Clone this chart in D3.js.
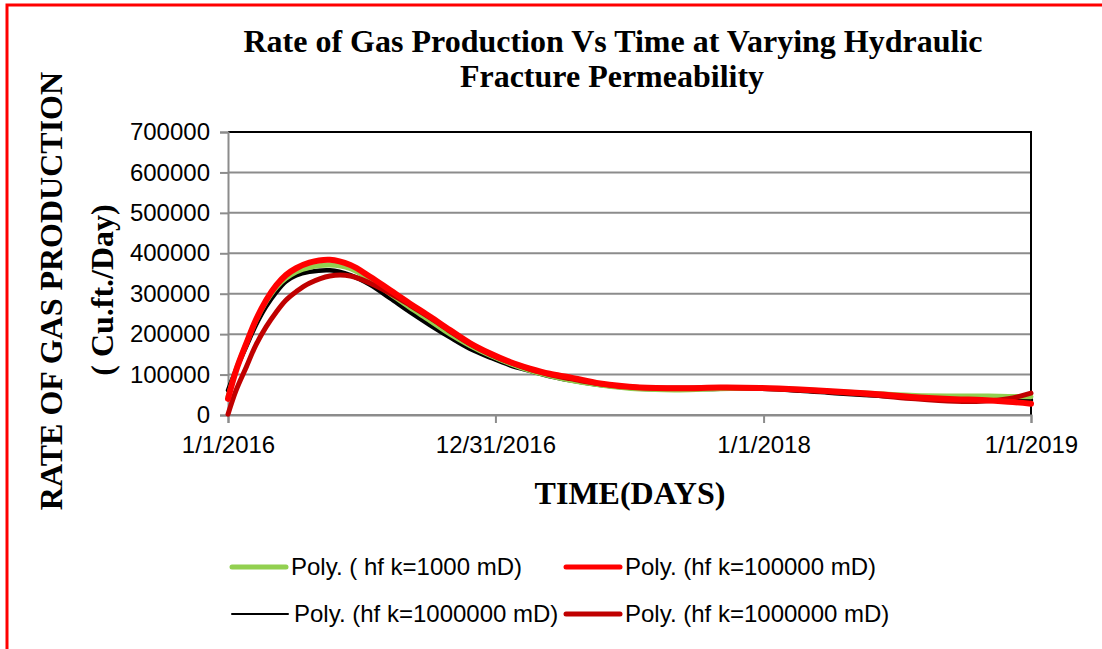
<!DOCTYPE html>
<meta charset="utf-8">

<script src="https://d3js.org/d3.v7.min.js"></script>

<style type="text/css">

body {
  margin: 0;
  background: #fff;
}

.tick-label {
  font-family: "Liberation Sans", Arial, sans-serif;
  font-size: 24px;
  fill: #000;
}

.legend-label {
  font-family: "Liberation Sans", Arial, sans-serif;
  font-size: 24px;
  fill: #000;
}

.title, .axis-title {
  font-family: "Liberation Serif", "Times New Roman", serif;
  font-weight: bold;
  fill: #000;
}

</style>

<body>
</body>

<script>

var days = [0, 11, 25, 38, 52, 66, 79, 93, 111, 139, 167, 194, 221, 248, 276, 303, 330, 358,
            385, 412, 439, 467, 508, 562, 617, 672, 726, 781, 829, 883, 938, 992, 1029, 1065, 1096];

// Poly. ( hf k=1000 mD)
var green = [45000, 112000, 177000, 233000, 280000, 316000, 338000, 354000, 365000, 371000,
             362000, 334000, 300000, 266000, 233000, 200000, 172000, 147000, 127000, 110000,
             97000, 86000, 74000, 64000, 62000, 65000, 66000, 63000, 58000, 53000, 48000,
             47000, 47000, 46000, 45000];

// Poly. (hf k=100000 mD)
var red = [40000, 110000, 177000, 235000, 284000, 321000, 346000, 363000, 377000, 384000,
           371000, 342000, 309000, 276000, 243000, 210000, 178000, 152000, 131000, 115000,
           102000, 93000, 78000, 68000, 66000, 68000, 67000, 63000, 58000, 52000, 44000,
           39000, 37000, 33000, 28000];

// Poly. (hf k=1000000 mD) - black
var black = [61000, 112000, 170000, 222000, 268000, 304000, 330000, 345000, 354000, 358000,
             346000, 322000, 289000, 255000, 222000, 192000, 164000, 142000, 123000, 109000,
             96000, 86000, 74000, 65000, 63000, 65000, 65000, 60000, 54000, 48000, 43000,
             40000, 39000, 38000, 37000];

// Poly. (hf k=1000000 mD) - dark red
var darkRed = [2000, 61000, 119000, 173000, 218000, 255000, 284000, 305000, 326000, 344000,
               344000, 326000, 301000, 272000, 240000, 207000, 176000, 150000, 130000, 113000,
               100000, 90000, 77000, 68000, 67000, 68000, 66000, 62000, 56000, 49000, 40000,
               34000, 34000, 40000, 54000];

var yTicks = [0, 100000, 200000, 300000, 400000, 500000, 600000, 700000];
var xTicks = ["1/1/2016", "12/31/2016", "1/1/2018", "1/1/2019"];

// order = legend order; z sets drawing order (red ends up on top)
var series = [
  {name: "Poly. ( hf k=1000 mD)", values: green, color: "#92d050", width: 5, z: 1},
  {name: "Poly. (hf k=100000 mD)", values: red, color: "#ff0000", width: 6, z: 3},
  {name: "Poly. (hf k=1000000 mD)", values: black, color: "#000000", width: 4.5, z: 0},
  {name: "Poly. (hf k=1000000 mD)", values: darkRed, color: "#c00000", width: 5, z: 2}
];

var width = 1102;
var height = 649;

var svg = d3.select("body").append("svg")
    .attr("width", width)
    .attr("height", height);

// red frame round the whole chart (runs off the right and bottom)
svg.append("rect")
    .attr("x", 7)
    .attr("y", 5)
    .attr("width", 1200)
    .attr("height", 1000)
    .attr("fill", "none")
    .attr("stroke", "#ff0000")
    .attr("stroke-width", 3);

// plot area (don't call it "top", window.top is taken)
var plotLeft = 228, plotRight = 1031, plotTop = 132, plotBottom = 415;

var parseDate = d3.timeParse("%m/%d/%Y");
var start = parseDate("1/1/2016");

var x = d3.scaleTime()
    .domain([start, parseDate("1/1/2019")])
    .range([plotLeft, plotRight]);

var y = d3.scaleLinear()
    .domain([0, 700000])
    .range([plotBottom, plotTop]);

// gridlines
svg.selectAll(".grid")
  .data(yTicks)
  .enter().append("line")
    .attr("class", "grid")
    .attr("x1", plotLeft)
    .attr("x2", plotRight)
    .attr("y1", function(d) { return y(d); })
    .attr("y2", function(d) { return y(d); })
    .attr("stroke", "#8c8c8c")
    .attr("stroke-width", 2);

// black border on top and right of plot area
svg.append("path")
    .attr("d", "M" + plotLeft + "," + plotTop + "H" + plotRight + "V" + plotBottom)
    .attr("fill", "none")
    .attr("stroke", "#000")
    .attr("stroke-width", 2);

// y axis
var yAxis = d3.axisLeft(y)
    .tickValues(yTicks)
    .tickFormat(d3.format("d"))
    .tickSize(8)
    .tickPadding(10);

var gy = svg.append("g")
    .attr("transform", "translate(" + plotLeft + ",0)")
    .call(yAxis);

gy.attr("font-size", null).attr("font-family", null);
gy.selectAll("text").attr("class", "tick-label");

// x axis
var xAxis = d3.axisBottom(x)
    .tickValues(xTicks.map(parseDate))
    .tickFormat(function(d, i) { return xTicks[i]; })
    .tickSize(8)
    .tickPadding(13);

var gx = svg.append("g")
    .attr("transform", "translate(0," + plotBottom + ")")
    .call(xAxis);

gx.attr("font-size", null).attr("font-family", null);
gx.selectAll("text").attr("class", "tick-label");

svg.selectAll(".domain, .tick line")
    .attr("stroke", "#8c8c8c")
    .attr("stroke-width", 2);

// trend lines
var line = d3.line()
    .x(function(d) { return x(d3.timeDay.offset(start, d[0])); })
    .y(function(d) { return y(d[1]); })
    .curve(d3.curveCatmullRom.alpha(0.5));

var drawOrder = series.slice().sort(function(a, b) { return a.z - b.z; });

svg.selectAll(".trend")
  .data(drawOrder)
  .enter().append("path")
    .attr("class", "trend")
    .attr("d", function(s) { return line(days.map(function(d, i) { return [d, s.values[i]]; })); })
    .attr("fill", "none")
    .attr("stroke", function(s) { return s.color; })
    .attr("stroke-width", function(s) { return s.width; })
    .attr("stroke-linecap", "round")
    .attr("stroke-linejoin", "round");

// titles
svg.append("text")
    .attr("class", "title")
    .attr("x", 613)
    .attr("y", 52)
    .attr("text-anchor", "middle")
    .attr("font-size", 32)
    .text("Rate of Gas Production Vs Time at Varying Hydraulic");

svg.append("text")
    .attr("class", "title")
    .attr("x", 612)
    .attr("y", 87)
    .attr("text-anchor", "middle")
    .attr("font-size", 32)
    .text("Fracture Permeability");

svg.append("text")
    .attr("class", "axis-title")
    .attr("x", 630)
    .attr("y", 504)
    .attr("text-anchor", "middle")
    .attr("font-size", 32)
    .text("TIME(DAYS)");

svg.append("text")
    .attr("class", "axis-title")
    .attr("transform", "translate(62,291) rotate(-90)")
    .attr("text-anchor", "middle")
    .attr("font-size", 32)
    .text("RATE OF GAS PRODUCTION");

svg.append("text")
    .attr("class", "axis-title")
    .attr("transform", "translate(113,290) rotate(-90)")
    .attr("text-anchor", "middle")
    .attr("font-size", 32)
    .text("( Cu.ft./Day)");

// legend, two columns by two rows
var legend = svg.selectAll(".legend")
  .data(series)
  .enter().append("g")
    .attr("class", "legend")
    .attr("transform", function(d, i) {
      return "translate(" + (i % 2 === 0 ? 232 : 566) + "," + (i < 2 ? 567 : 614) + ")";
    });

legend.append("line")
    .attr("x1", 0)
    .attr("x2", function(d, i) { return i === 2 ? 56 : 54; })
    .attr("stroke", function(d) { return d.color; })
    .attr("stroke-width", function(d, i) { return i === 2 ? 2 : 5; })
    .attr("stroke-linecap", "round");

legend.append("text")
    .attr("class", "legend-label")
    .attr("x", function(d, i) { return i === 2 ? 62 : 59; })
    .attr("dy", "0.35em")
    .text(function(d) { return d.name; });

</script>
